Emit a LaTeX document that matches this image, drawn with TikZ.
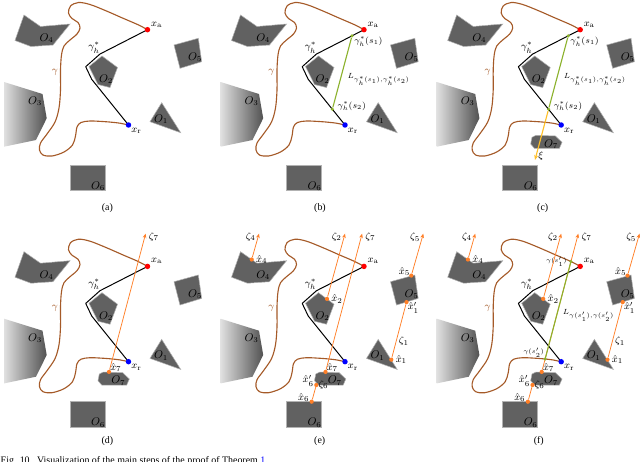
\documentclass[tikz,border=0pt]{standalone}
\usepackage{fontspec}
\newfontfamily\capfont{Liberation Serif}
\usepackage{xcolor}
\usetikzlibrary{positioning,arrows.meta,calc}

\definecolor{gambrown}{RGB}{165,90,40}
\definecolor{zorange}{RGB}{255,127,39}
\definecolor{lgreen}{RGB}{140,178,45}
\definecolor{xiyellow}{RGB}{255,192,40}

\begin{document}
\begin{tikzpicture}[x=0.806pt, y=-0.806pt,
  obst/.style={fill=black!62, draw=black!30, line width=0.4pt},
  olbl/.style={font=\small, inner sep=0pt},
  lbl/.style={font=\footnotesize, inner sep=0.5pt},
  slbl/.style={font=\scriptsize, inner sep=0.5pt},
  llbl/.style={font=\fontsize{6}{7}\selectfont, inner sep=0.5pt},
  tlbl/.style={font=\fontsize{5}{6}\selectfont, inner sep=0.5pt},
  curve/.style={draw=gambrown, line width=0.9pt},
  opt/.style={draw=black, line width=0.8pt, line join=round},
  zeta/.style={draw=zorange, line width=0.6pt, -{Stealth[length=3.5pt, width=3pt]}},
  zseg/.style={draw=zorange, line width=0.6pt},
  chord/.style={draw=lgreen, line width=0.9pt},
  xiarr/.style={draw=xiyellow, line width=0.9pt, -{Stealth[length=4pt, width=3.2pt]}},
  pdot/.style={circle, fill=#1, inner sep=0pt, minimum size=4.4pt},
  odot/.style={circle, fill=zorange, inner sep=0pt, minimum size=3.4pt},
  gdot/.style={circle, fill=lgreen, inner sep=0pt, minimum size=2.8pt},
  subcap/.style={font=\capfont\footnotesize, inner sep=0pt},
  world/.pic={
    % obstacles O1--O6
    \shade[left color=black!12, right color=black!68]
      (4,82) -- (42.5,94) -- (46.7,118.3) -- (36,140) -- (4,146.7) -- cycle;
    \filldraw[obst] (24,15) -- (40.5,26.5) -- (70,24) -- (53,45) -- (31,46.5) -- (15,40.5) -- cycle;
    \filldraw[obst] (102,56) -- (117.5,67.5) -- (110,87.5) -- (98,84.5) -- (89,66.5) -- cycle;
    \filldraw[obst] (174,45) -- (198.3,38.3) -- (201.7,61.7) -- (180,68.3) -- cycle;
    \filldraw[obst] (161.7,102.7) -- (180.7,132.7) -- (150,121.7) -- cycle;
    \filldraw[obst] (70,165) rectangle (105,190.7);
    \node[olbl] (o1) at (161,119) {$O_1$};
    \node[olbl] (o2) at (106,79.5) {$O_2$};
    \node[olbl] (o3) at (35,101.5) {$O_3$};
    \node[olbl] (o4) at (46.7,38.3) {$O_4$};
    \node[olbl] (o5) at (195,57.5) {$O_5$};
    \node[olbl] (o6) at (98,186) {$O_6$};
    % path gamma
    \coordinate (pa) at (147.5,29.7);
    \coordinate (pr) at (128.5,125);
    \draw[curve] plot[smooth, tension=0.55] coordinates {(147.5,29.7) (138.2,24.8) (122,17.8)
      (106,10.8) (90,4.5) (78.5,2.5) (70.5,6) (68.5,13) (72,18.5) (78,22.5) (80,28) (77,34)
      (70,40) (64,46) (61.5,55) (60.5,70) (60.5,90) (59,108) (55,122) (47,134) (40.5,143)
      (39.5,150) (43,155) (52,156) (64,152) (72.5,145) (75.5,136) (77,127) (81,122.5)
      (90,121) (104,121.6) (112.4,122.3) (120,123.2) (128.5,125)};
    \node[lbl, text=gambrown] (gam) at (55,72) {$\gamma$};
    % shortest path
    \coordinate (k1) at (100,54);
    \coordinate (k2) at (85.7,66.7);
    \coordinate (k3) at (91.7,79.3);
    \draw[opt] (pa) -- (k1) -- (k2) -- (k3) -- (pr);
    \node[lbl, above left=0pt and -0.5pt of k1] (gstar) {$\gamma_h^*$};
    \node[pdot=red] (xa) at (pa) {};
    \node[pdot=blue] (xr) at (pr) {};
    \node[lbl, above right=-0.5pt and 0.5pt of xa] {$x_{\mathrm{a}}$};
    \node[lbl, below right=0pt and 0pt of xr] {$x_{\mathrm{r}}$};
  },
  wall/.pic={
    \filldraw[obst] (99.3,137.3) -- (103.3,135.3) -- (122.7,136) -- (129.3,142.3)
      -- (126.7,148.3) -- (101.7,148.3) -- (98,144) -- cycle;
    \node[olbl] (o7) at (118.3,144) {$O_7$};
  },
  ray/.pic={
    \node[odot] (x7) at (109,135.2) {};
    \coordinate (z7) at (145.6,-3);
    \draw[zeta] (x7) -- (z7);
    \node[lbl, right=2pt of z7, yshift=-2.5pt] {$\zeta_7$};
    \node[lbl, above right=-2pt and -1pt of x7] {$\hat x_7$};
  },
  rays/.pic={
    % zeta_4, zeta_2, zeta_5
    \node[odot] (x4) at (35.2,22.8) {};
    \coordinate (z4) at (42.5,-3);
    \draw[zeta] (x4) -- (z4);
    \node[lbl, left=2pt of z4, yshift=-2.5pt] {$\zeta_4$};
    \node[lbl, right=1pt of x4] {$\hat x_4$};
    \node[odot] (x2) at (110.5,62.2) {};
    \coordinate (z2) at (128.5,-3);
    \draw[zeta] (x2) -- (z2);
    \node[lbl, left=2pt of z2, yshift=-2.5pt] {$\zeta_2$};
    \node[lbl, right=1pt of x2] {$\hat x_2$};
    \node[odot] (x5) at (194.8,38.9) {};
    \coordinate (z5) at (206.8,-3);
    \draw[zeta] (x5) -- (z5);
    \node[lbl, left=2pt of z5, yshift=-3pt] {$\zeta_5$};
    \node[lbl, above left=-2pt and -1pt of x5] {$\hat x_5$};
    % zeta_1, zeta_6
    \node[odot] (x1) at (174.8,123) {};
    \node[odot] (x1p) at (190,65.4) {};
    \draw[zseg] (x1) -- node[lbl, right=1.5pt, pos=0.3] {$\zeta_1$} (x1p);
    \node[lbl, right=1pt of x1] {$\hat x_1$};
    \node[lbl, below right=-2pt and -1pt of x1p] {$\hat x_1'$};
    \node[odot] (x6) at (95.2,165) {};
    \node[odot] (x6p) at (99.8,148.3) {};
    \draw[zseg] (x6) -- node[lbl, right=1pt] {$\zeta_6$} (x6p);
    \node[lbl, above left=-2pt and 0pt of x6] {$\hat x_6$};
    \node[lbl, above left=-3pt and 0pt of x6p] {$\hat x_6'$};
  }]
  \useasboundingbox (0,0) rectangle (640,461);
  \clip (0,0) rectangle (640,461);
  \fill[white] (0,0) rectangle (640,461);

  % (a)
  \begin{scope}
    \pic {world};
  \end{scope}

  % (b)
  \begin{scope}[shift={(216.5,0)}]
    \pic {world};
    \node[gdot] (s1) at ($(pa)!0.2526!(k1)$) {};
    \node[gdot] (s2) at ($(k3)!0.656!(pr)$) {};
    \draw[chord] (s1) -- node[llbl, right=5pt, pos=0.6] {$L_{\gamma_h^*(s_1),\gamma_h^*(s_2)}$} (s2);
    \node[slbl, below right=-1pt and 0pt of s1] {$\gamma_h^*(s_1)$};
    \node[slbl, right=2pt of s2, yshift=2.5pt] {$\gamma_h^*(s_2)$};
  \end{scope}

  % (c)
  \begin{scope}[shift={(432.7,0)}]
    \pic {world};
    \pic {wall};
    \node[gdot] (s1) at ($(pa)!0.2526!(k1)$) {};
    \node[gdot] (s2) at ($(k3)!0.656!(pr)$) {};
    \coordinate (xi) at ($(s1)!1.69!(s2)$);
    \draw[xiarr] (s2) -- (xi);
    \draw[chord] (s1) -- node[llbl, right=5pt, pos=0.6] {$L_{\gamma_h^*(s_1),\gamma_h^*(s_2)}$} (s2);
    \node[slbl, below right=-1pt and 0pt of s1] {$\gamma_h^*(s_1)$};
    \node[slbl, right=2pt of s2, yshift=2.5pt] {$\gamma_h^*(s_2)$};
    \node[lbl, right=2pt of xi, yshift=3.5pt] {$\xi$};
  \end{scope}

  % (d)
  \begin{scope}[shift={(0,236.7)}]
    \pic {world};
    \pic {wall};
    \pic {ray};
  \end{scope}

  % (e)
  \begin{scope}[shift={(216.5,236.7)}]
    \pic {world};
    \pic {wall};
    \pic {rays};
    \pic {ray};
  \end{scope}

  % (f)
  \begin{scope}[shift={(432.7,236.7)}]
    \pic {world};
    \pic {wall};
    \pic {rays};
    \pic {ray};
    \coordinate (c1) at ($(x7)!0.799!(z7)$);
    \coordinate (c2) at ($(x7)!0.0933!(z7)$);
    \draw[chord] (c1) -- node[llbl, right=4pt, pos=0.55] {$L_{\gamma(s_1'),\gamma(s_2')}$} (c2);
    \node[gdot] (g1) at (c1) {};
    \node[gdot] (g2) at (c2) {};
    \node[tlbl, left=1pt of g1] {$\gamma(s_1')$};
    \node[tlbl, above left=-0.5pt and -1pt of g2] {$\gamma(s_2')$};
  \end{scope}

  % sub-captions
  \node[subcap] at (107.3,208.3) {(a)};
  \node[subcap] at (320,208.3) {(b)};
  \node[subcap] at (542.7,208.3) {(c)};
  \node[subcap] at (107.3,441.5) {(d)};
  \node[subcap] at (319.7,441.5) {(e)};
  \node[subcap] at (538.7,441.5) {(f)};
  \node[subcap, anchor=base west] at (0.5,463.5)
    {Fig. 10.\ \ Visualization of the main steps of the proof of Theorem~\textcolor{blue}{1}.};
\end{tikzpicture}
\end{document}
